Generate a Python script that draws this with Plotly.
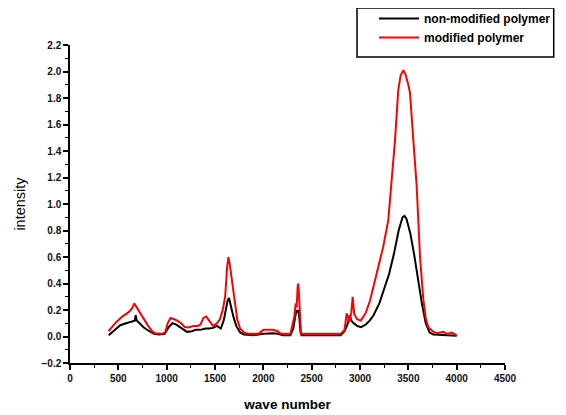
import plotly.graph_objects as go

# ---- data ----
x_black = [400, 450, 520, 580, 640, 670, 680, 690, 720, 760, 820, 870, 920, 980, 1020, 1060, 1100, 1140,
           1180, 1210, 1260, 1300, 1350, 1400, 1440, 1480, 1520, 1560, 1590, 1610, 1630, 1645, 1660, 1690,
           1720, 1760, 1800, 1850, 1900, 2000, 2050, 2100, 2150, 2200, 2280, 2310, 2330, 2345, 2355, 2365,
           2375, 2385, 2395, 2450, 2600, 2800, 2840, 2870, 2895, 2910, 2935, 2970, 3010, 3060, 3100, 3140,
           3200, 3250, 3300, 3350, 3400, 3440, 3460, 3480, 3520, 3560, 3600, 3640, 3680, 3720, 3760, 3850,
           3950, 4000]
y_black = [0.01, 0.04, 0.085, 0.10, 0.11, 0.12, 0.16, 0.12, 0.10, 0.07, 0.04, 0.02, 0.015, 0.02, 0.07, 0.10,
           0.09, 0.07, 0.05, 0.035, 0.04, 0.05, 0.05, 0.06, 0.06, 0.065, 0.08, 0.06, 0.12, 0.20, 0.27, 0.29,
           0.24, 0.15, 0.08, 0.03, 0.015, 0.01, 0.01, 0.02, 0.025, 0.025, 0.02, 0.01, 0.01, 0.06, 0.15, 0.20,
           0.18, 0.20, 0.12, 0.03, 0.01, 0.01, 0.01, 0.01, 0.04, 0.09, 0.16, 0.12, 0.10, 0.08, 0.07, 0.09,
           0.12, 0.16, 0.25, 0.36, 0.47, 0.62, 0.80, 0.90, 0.91, 0.89, 0.78, 0.62, 0.43, 0.25, 0.10, 0.03,
           0.015, 0.01, 0.01, 0.005]

x_red = [400, 420, 480, 540, 600, 640, 665, 690, 730, 760, 800, 850, 880, 950, 985, 1010, 1040, 1080, 1110,
         1150, 1190, 1240, 1276, 1320, 1350, 1380, 1410, 1440, 1480, 1520, 1550, 1580, 1605, 1625, 1638,
         1650, 1670, 1690, 1710, 1730, 1760, 1800, 1850, 1950, 2000, 2100, 2150, 2180, 2280, 2300, 2320,
         2335, 2345, 2355, 2362, 2370, 2380, 2390, 2500, 2800, 2840, 2862, 2890, 2910, 2924, 2940, 2970,
         3010, 3060, 3103, 3140, 3172, 3210, 3241, 3293, 3327, 3362, 3396, 3420, 3448, 3470, 3500, 3517,
         3552, 3586, 3621, 3655, 3680, 3707, 3750, 3793, 3862, 3900, 3950, 4000]
y_red = [0.04, 0.06, 0.11, 0.15, 0.18, 0.21, 0.25, 0.22, 0.17, 0.14, 0.09, 0.04, 0.025, 0.02, 0.03, 0.10,
         0.14, 0.13, 0.12, 0.10, 0.07, 0.07, 0.08, 0.08, 0.09, 0.14, 0.15, 0.12, 0.08, 0.10, 0.13, 0.20,
         0.30, 0.52, 0.60, 0.56, 0.45, 0.35, 0.22, 0.13, 0.06, 0.03, 0.02, 0.02, 0.05, 0.05, 0.04, 0.02,
         0.02, 0.08, 0.15, 0.25, 0.22, 0.38, 0.40, 0.30, 0.12, 0.02, 0.02, 0.02, 0.05, 0.175, 0.11, 0.18,
         0.30, 0.17, 0.13, 0.12, 0.18, 0.27, 0.38, 0.48, 0.58, 0.68, 0.88, 1.15, 1.48, 1.86, 1.97, 2.01,
         1.98, 1.90, 1.84, 1.48, 1.14, 0.60, 0.28, 0.14, 0.07, 0.04, 0.025, 0.036, 0.02, 0.03, 0.01]

series_names = ["non-modified polymer", "modified polymer"]
x_tick_vals = [0, 500, 1000, 1500, 2000, 2500, 3000, 3500, 4000, 4500]
y_tick_vals = [-0.2, 0.0, 0.2, 0.4, 0.6, 0.8, 1.0, 1.2, 1.4, 1.6, 1.8, 2.0, 2.2]

FONT = "Liberation Sans, Arial, sans-serif"

fig = go.Figure()
fig.add_trace(go.Scatter(x=x_black, y=y_black, mode="lines", name=series_names[0],
                         line=dict(color="black", width=2)))
fig.add_trace(go.Scatter(x=x_red, y=y_red, mode="lines", name=series_names[1],
                         line=dict(color="#ff0000", width=2)))

tickfont = dict(family=FONT, size=10, color="#111111", weight="bold")

# legend frame (drawn as a shape so its padding matches the reference)
fig.add_shape(type="rect", xref="paper", yref="paper",
              x0=0.6598, x1=1.112, y0=0.9623, y1=1.1164,
              line=dict(color="black", width=1.5), fillcolor="rgba(0,0,0,0)", layer="above")

fig.update_layout(
    width=566, height=415,
    margin=dict(l=62, r=69, t=37, b=60, autoexpand=False),
    paper_bgcolor="white", plot_bgcolor="white",
    font=dict(family=FONT, color="black"),
    showlegend=True,
    legend=dict(
        x=(374 - 70) / 435, y=(363 - 4) / 318, xanchor="left", yanchor="top", xref="paper", yref="paper",
        borderwidth=0, bgcolor="rgba(0,0,0,0)",
        font=dict(family=FONT, size=12, color="black", weight="bold"),
        tracegroupgap=0, itemwidth=40,
    ),
    xaxis=dict(
        range=[0, 4500], tickvals=x_tick_vals, showgrid=False, zeroline=False, automargin=False,
        showline=True, linecolor="black", linewidth=1.5,
        ticks="outside", ticklen=5, tickwidth=1.5, tickcolor="black",
        minor=dict(dtick=250, ticks="outside", ticklen=3, tickwidth=1.2, tickcolor="black", showgrid=False),
        tickfont=tickfont,
        title=dict(text="wave number", standoff=17,
                   font=dict(family=FONT, size=13.5, color="black", weight="bold")),
    ),
    yaxis=dict(
        range=[-0.2, 2.2], tickvals=y_tick_vals, tickformat=".1f", showgrid=False, zeroline=False,
        automargin=False,
        showline=True, linecolor="black", linewidth=1.5,
        ticks="outside", ticklen=5, tickwidth=1.5, tickcolor="black",
        minor=dict(dtick=0.1, tick0=-0.2, ticks="outside", ticklen=3, tickwidth=1.2, tickcolor="black", showgrid=False),
        tickfont=tickfont,
        title=dict(text="intensity", standoff=12,
                   font=dict(family=FONT, size=14.5, color="black")),
    ),
)

fig.write_html("out.html")
